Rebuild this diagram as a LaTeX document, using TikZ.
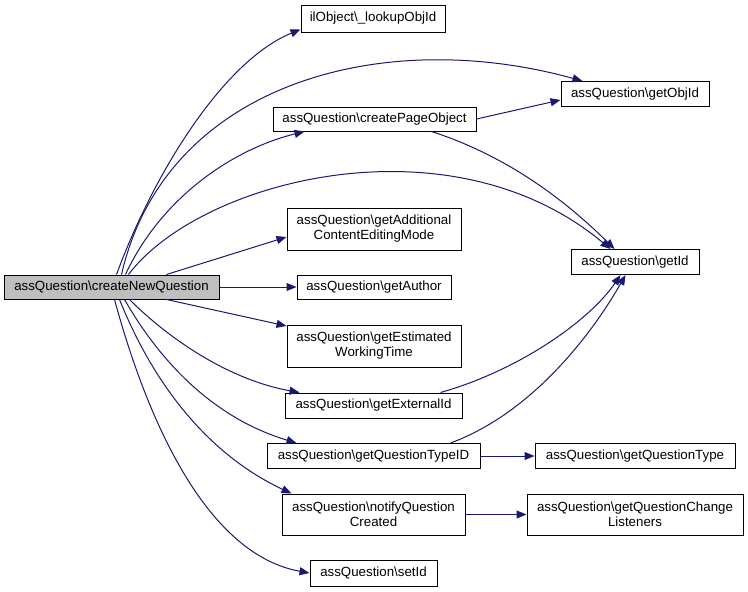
\documentclass[tikz,border=0pt]{standalone}
\usepackage{fontspec}
\setmainfont{Liberation Sans}
\usetikzlibrary{arrows.meta}
\definecolor{edgec}{HTML}{191970}
\tikzset{
  box/.style={draw=black, line width=1pt, fill=white, inner sep=0pt, align=center, font=\fontsize{13.3}{15}\selectfont},
  edge/.style={draw=edgec, line width=1pt, -{Triangle[length=10pt,width=8pt]}}
}
\begin{document}
\begin{tikzpicture}[x=1pt,y=-1pt]
\useasboundingbox (0,0) rectangle (748,592);
\node[box, fill={rgb,255:red,191;green,191;blue,191}, minimum width=215pt, minimum height=24pt] (main) at (111.5,287) {assQuestion\textbackslash createNewQuestion};
\node[box, minimum width=144pt, minimum height=27pt] (lookup) at (373,18.5) {ilObject\textbackslash\_lookupObjId};
\node[box, minimum width=203pt, minimum height=24pt] (cpo) at (374.5,119) {assQuestion\textbackslash createPageObject};
\node[box, minimum width=148pt, minimum height=25pt] (objid) at (635,94) {assQuestion\textbackslash getObjId};
\node[box, minimum width=128pt, minimum height=25pt] (getid) at (635,262) {assQuestion\textbackslash getId};
\node[box, minimum width=174pt, minimum height=42pt] (addl) at (374,229) {assQuestion\textbackslash getAdditional\\ContentEditingMode};
\node[box, minimum width=154pt, minimum height=24pt] (author) at (374,287) {assQuestion\textbackslash getAuthor};
\node[box, minimum width=174pt, minimum height=42pt] (est) at (374,346) {assQuestion\textbackslash getEstimated\\WorkingTime};
\node[box, minimum width=177pt, minimum height=25pt] (ext) at (373.5,405.5) {assQuestion\textbackslash getExternalId};
\node[box, minimum width=213pt, minimum height=25pt] (qtid) at (373.5,456) {assQuestion\textbackslash getQuestionTypeID};
\node[box, minimum width=200pt, minimum height=25pt] (qt) at (635,456) {assQuestion\textbackslash getQuestionType};
\node[box, minimum width=183pt, minimum height=41pt] (notify) at (373.5,514.5) {assQuestion\textbackslash notifyQuestion\\Created};
\node[box, minimum width=216pt, minimum height=41pt] (qcl) at (635,514.5) {assQuestion\textbackslash getQuestionChange\\Listeners};
\node[box, minimum width=127pt, minimum height=26pt] (setid) at (373.5,573) {assQuestion\textbackslash setId};

\draw[edge] ([xshift=5pt]main.north) .. controls (155,170) and (225,60) .. ([yshift=3pt]lookup.south west);
\draw[edge] ([xshift=10pt]main.north) .. controls (165,85) and (380,25) .. ([xshift=22pt]objid.north west);
\draw[edge] ([xshift=14pt]main.north) .. controls (160,200) and (230,150) .. ([xshift=32pt]cpo.south west);
\draw[edge] ([xshift=17pt]main.north) .. controls (200,180) and (450,115) .. ([xshift=40pt]getid.north west);
\draw[edge] ([xshift=55pt]main.north) -- ([yshift=-8pt]addl.west);
\draw[edge] (main.east) -- (author.west);
\draw[edge] ([xshift=55pt]main.south) -- ([yshift=20pt]est.west);
\draw[edge] ([xshift=18pt]main.south) .. controls (170,340) and (230,380) .. ([xshift=15pt]ext.north west);
\draw[edge] ([xshift=13pt]main.south) .. controls (165,370) and (220,420) .. ([xshift=30pt]qtid.north west);
\draw[edge] ([xshift=8pt]main.south) .. controls (160,400) and (220,460) .. ([xshift=10pt]notify.north west);
\draw[edge] ([xshift=3pt]main.south) .. controls (150,430) and (210,555) .. (setid.west);

\draw[edge] (cpo.east) -- ([yshift=-6pt]objid.west);
\draw[edge] ([xshift=-45pt]cpo.south east) .. controls (520,160) and (580,215) .. ([xshift=44pt]getid.north west);
\draw[edge] ([xshift=-22pt]ext.north east) .. controls (520,370) and (590,320) .. ([xshift=50pt]getid.south west);
\draw[edge] ([xshift=-30pt]qtid.north east) .. controls (540,410) and (600,320) .. ([xshift=55pt]getid.south west);
\draw[edge] (qtid.east) -- (qt.west);
\draw[edge] (notify.east) -- (qcl.west);
\end{tikzpicture}
\end{document}
